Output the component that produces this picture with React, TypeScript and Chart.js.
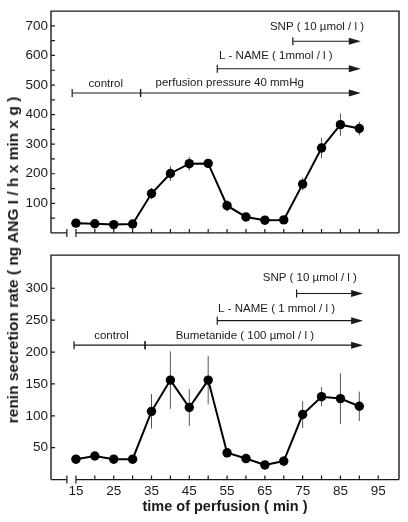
import React, { useEffect, useRef } from 'react';
import { Chart, registerables } from 'chart.js';
Chart.register(...registerables);

// ---- data ----
const times = [15, 20, 25, 30, 35, 40, 45, 50, 55, 60, 65, 70, 75, 80, 85, 90];
const topValues = [33, 31, 28, 30, 133, 201, 234, 235, 92, 54, 43, 44, 165, 287, 366, 353];
const topErrors = [6, 6, 6, 5, 19, 25, 23, 14, 19, 8, 6, 6, 22, 35, 38, 23];
const bottomValues = [32, 37, 32, 32, 107, 156, 113, 156, 42, 33, 23, 29, 102, 130, 127, 115];
const bottomErrors = [5, 5, 4, 4, 27, 45, 29, 38, 5, 5, 7, 8, 21, 15, 40, 23];

const xTickValues = [15, 20, 25, 30, 35, 40, 45, 50, 55, 60, 65, 70, 75, 80, 85, 90, 95];
const xTickLabels = ['15', '25', '35', '45', '55', '65', '75', '85', '95'];
const topYTicks = [50, 100, 150, 200, 250, 300, 350, 400, 450, 500, 550, 600, 650, 700];
const topYLabels = ['100', '200', '300', '400', '500', '600', '700'];
const bottomYTicks = [50, 100, 150, 200, 250, 300];
const bottomYLabels = ['50', '100', '150', '200', '250', '300'];
const axisBreakAt = 12.6;

// annotations (data units)
const topArrowFrom = [72.4, 52.4, 14, 32.1];
const topArrowTo = [90.4, 90.4, 32.1, 90.4];
const topArrowY = [648, 555, 473, 473];
const topArrowHead = [true, true, false, true];
const topLabelText = ['SNP ( 10 µmol / l )', 'L - NAME ( 1mmol / l )', 'control', 'perfusion pressure 40 mmHg'];
const topLabelX = [78.8, 67.9, 22.9, 55.7];
const topLabelY = [697, 598, 504, 508];

const bottomArrowFrom = [73.4, 52.4, 14.5, 33.3];
const bottomArrowTo = [91, 91, 33.3, 91];
const bottomArrowY = [291.8, 249.2, 210.8, 210.8];
const bottomArrowHead = [true, true, false, true];
const bottomLabelText = ['SNP ( 10 µmol / l )', 'L - NAME ( 1 mmol / l )', 'control', 'Bumetanide ( 100 µmol / l )'];
const bottomLabelX = [76.9, 68.1, 24.4, 59.7];
const bottomLabelY = [316, 268, 225, 226];

const FONT = '"Liberation Sans", Arial, Helvetica, sans-serif';
const INK = '#1a1a1a';

const framePlugin = {
  id: 'frame',
  beforeDatasetsDraw(chart: any, _a: any, opts: any) {
    const { ctx, scales } = chart;
    const x = scales.x, y = scales.y;
    ctx.save();
    ctx.strokeStyle = '#555';
    ctx.lineWidth = 1;
    opts.values.forEach((v: number, i: number) => {
      const px = x.getPixelForValue(opts.times[i]);
      ctx.beginPath();
      ctx.moveTo(px, y.getPixelForValue(v + opts.errors[i]));
      ctx.lineTo(px, y.getPixelForValue(v - opts.errors[i]));
      ctx.stroke();
    });
    ctx.restore();
  },
  afterDraw(chart: any, _a: any, opts: any) {
    const { ctx, chartArea: a, scales } = chart;
    const x = scales.x, y = scales.y;
    ctx.save();
    ctx.strokeStyle = INK;
    ctx.lineWidth = 1.4;
    ctx.beginPath();
    ctx.moveTo(a.left, a.bottom);
    ctx.lineTo(a.left, a.top);
    ctx.lineTo(a.right, a.top);
    ctx.lineTo(a.right, a.bottom);
    const b1 = x.getPixelForValue(axisBreakAt);
    const b2 = x.getPixelForValue(xTickValues[0]);
    ctx.moveTo(a.left, a.bottom);
    ctx.lineTo(b1, a.bottom);
    ctx.moveTo(b2, a.bottom);
    ctx.lineTo(a.right, a.bottom);
    ctx.stroke();
    ctx.lineWidth = 1.2;
    ctx.beginPath();
    [b1, b2].forEach((p) => {
      ctx.moveTo(p, a.bottom - 4);
      ctx.lineTo(p, a.bottom + 4);
    });
    xTickValues.forEach((v) => {
      const p = x.getPixelForValue(v);
      ctx.moveTo(p, a.bottom);
      ctx.lineTo(p, a.bottom - 4);
    });
    opts.yTicks.forEach((v: number) => {
      const p = y.getPixelForValue(v);
      ctx.moveTo(a.left, p);
      ctx.lineTo(a.left + 4, p);
    });
    ctx.stroke();

    // annotations
    ctx.fillStyle = INK;
    ctx.strokeStyle = INK;
    ctx.lineWidth = 1.2;
    opts.arrowFrom.forEach((f: number, i: number) => {
      const x1 = x.getPixelForValue(f);
      const x2 = x.getPixelForValue(opts.arrowTo[i]);
      const py = y.getPixelForValue(opts.arrowY[i]);
      ctx.beginPath();
      ctx.moveTo(x1, py);
      ctx.lineTo(opts.arrowHead[i] ? x2 - 10 : x2, py);
      ctx.moveTo(x1, py - 4);
      ctx.lineTo(x1, py + 4);
      if (!opts.arrowHead[i]) {
        ctx.moveTo(x2, py - 4);
        ctx.lineTo(x2, py + 4);
      }
      ctx.stroke();
      if (opts.arrowHead[i]) {
        ctx.beginPath();
        ctx.moveTo(x2, py);
        ctx.lineTo(x2 - 12, py - 3.5);
        ctx.lineTo(x2 - 12, py + 3.5);
        ctx.closePath();
        ctx.fill();
      }
    });
    ctx.font = `11.5px ${FONT}`;
    ctx.textAlign = 'center';
    ctx.textBaseline = 'middle';
    opts.labelText.forEach((t: string, i: number) => {
      ctx.fillText(t, x.getPixelForValue(opts.labelX[i]), y.getPixelForValue(opts.labelY[i]));
    });
    ctx.restore();
  },
};

function makeConfig(p: any): any {
  return {
    type: 'line',
    data: {
      datasets: [
        {
          data: times.map((t, i) => ({ x: t, y: p.values[i] })),
          borderColor: '#000',
          borderWidth: 2,
          pointRadius: 4.7,
          pointBackgroundColor: '#000',
          pointBorderWidth: 0,
          tension: 0,
        },
      ],
    },
    plugins: [framePlugin],
    options: {
      responsive: false,
      maintainAspectRatio: false,
      animation: false,
      events: [],
      layout: { padding: { top: p.padTop, right: 9, left: 0, bottom: 0 } },
      plugins: {
        legend: { display: false },
        tooltip: { enabled: false },
        frame: {
          times,
          values: p.values,
          errors: p.errors,
          yTicks: p.yTicks,
          arrowFrom: p.arrowFrom,
          arrowTo: p.arrowTo,
          arrowY: p.arrowY,
          arrowHead: p.arrowHead,
          labelText: p.labelText,
          labelX: p.labelX,
          labelY: p.labelY,
        },
      },
      scales: {
        x: {
          type: 'linear',
          min: 8.4,
          max: 100.5,
          grid: { display: false, drawTicks: false },
          border: { display: false },
          ticks: {
            display: p.showX,
            autoSkip: false,
            maxRotation: 0,
            padding: 4,
            color: INK,
            font: { family: FONT, size: 13.5 },
            callback: (v: number) => (xTickLabels.includes(String(v)) ? String(v) : ''),
          },
          title: {
            display: p.showX,
            text: 'time of perfusion ( min )',
            color: INK,
            font: { family: FONT, size: 14.5, weight: 'bold' },
            padding: { top: 0, bottom: 6 },
          },
          afterBuildTicks: (s: any) => {
            s.ticks = xTickValues.map((v) => ({ value: v }));
          },
          afterFit: (s: any) => {
            s.height = p.xHeight;
          },
        },
        y: {
          type: 'linear',
          min: 0,
          max: p.yMax,
          grid: { display: false, drawTicks: false },
          border: { display: false },
          ticks: {
            autoSkip: false,
            padding: 3,
            color: INK,
            font: { family: FONT, size: 13.5 },
            callback: (v: number) => (p.yLabels.includes(String(v)) ? String(v) : ''),
          },
          afterBuildTicks: (s: any) => {
            s.ticks = p.yTicks.map((v: number) => ({ value: v }));
          },
          afterFit: (s: any) => {
            s.width = 51;
          },
        },
      },
    },
  };
}

export default function App() {
  const topRef = useRef<HTMLCanvasElement>(null);
  const botRef = useRef<HTMLCanvasElement>(null);
  useEffect(() => {
    const top = new Chart(
      topRef.current as HTMLCanvasElement,
      makeConfig({
        values: topValues,
        errors: topErrors,
        yTicks: topYTicks,
        yLabels: topYLabels,
        yMax: 750,
        padTop: 9,
        xHeight: 5.7,
        showX: false,
        arrowFrom: topArrowFrom,
        arrowTo: topArrowTo,
        arrowY: topArrowY,
        arrowHead: topArrowHead,
        labelText: topLabelText,
        labelX: topLabelX,
        labelY: topLabelY,
      })
    );
    const bot = new Chart(
      botRef.current as HTMLCanvasElement,
      makeConfig({
        values: bottomValues,
        errors: bottomErrors,
        yTicks: bottomYTicks,
        yLabels: bottomYLabels,
        yMax: 352,
        padTop: 4.3,
        xHeight: 42.4,
        showX: true,
        arrowFrom: bottomArrowFrom,
        arrowTo: bottomArrowTo,
        arrowY: bottomArrowY,
        arrowHead: bottomArrowHead,
        labelText: bottomLabelText,
        labelX: bottomLabelX,
        labelY: bottomLabelY,
      })
    );
    return () => {
      top.destroy();
      bot.destroy();
    };
  }, []);

  return (
    <div style={{ position: 'absolute', left: 0, top: 0, width: 408, height: 522, background: '#fff', overflow: 'hidden' }}>
      <canvas ref={topRef} width={408} height={244} style={{ position: 'absolute', left: 0, top: 0, width: 408, height: 244 }} />
      <canvas ref={botRef} width={408} height={278} style={{ position: 'absolute', left: 0, top: 244, width: 408, height: 278 }} />
      <div
        style={{
          position: 'absolute',
          left: 13,
          top: 259.5,
          transform: 'translate(-50%, -50%) rotate(-90deg)',
          whiteSpace: 'nowrap',
          font: `bold 15.5px ${FONT}`,
          color: INK,
          lineHeight: '18px',
        }}
      >
        renin secretion rate ( ng ANG I / h x min x g )
      </div>
    </div>
  );
}
